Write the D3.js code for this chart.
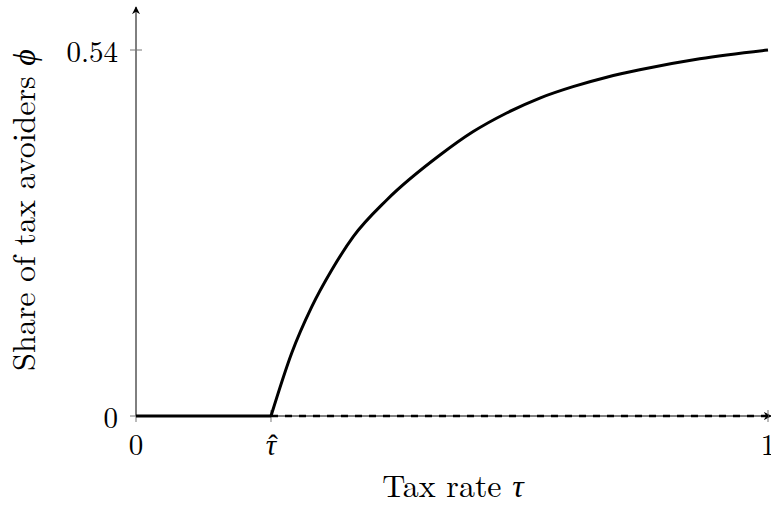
<!DOCTYPE html>
<html>
<head>
<meta charset="utf-8">
<script src="https://cdn.jsdelivr.net/npm/d3@7"></script>
<style>
  body { margin: 0; background: #fff; }
  text { font-family: "Latin Modern Roman", "CMU Serif", "DejaVu Serif", serif; fill: #000; }
  .greek { font-family: "Liberation Serif", serif; font-style: italic; }
</style>
</head>
<body>
<div id="viz-container"></div>
<script>
// dados
const tauHat = 0.2136;
const flatX = [0, 0.2136];
const flatY = [0, 0];
const curveX = [0.2136, 0.2464, 0.278, 0.3097, 0.3438, 0.3967, 0.481, 0.533, 0.5865, 0.639, 0.6915, 0.7448, 0.797, 0.892, 1.0];
const curveY = [0, 0.093, 0.161, 0.2154, 0.2646, 0.3187, 0.385, 0.4193, 0.4471, 0.4691, 0.4859, 0.4998, 0.5108, 0.527, 0.54];
const dashedX = [tauHat, 1.0];
const dashedY = [0, 0];
const xTicks = [0, tauHat, 1];
const xTickLabels = ['0', 'τ', '1'];
const xTickHats = [false, true, false];
const yTicks = [0, 0.54];
const yTickLabels = ['0', '0.54'];

const W = 771, H = 507;
const x = d3.scaleLinear().domain([0, 1]).range([136, 768]);
const y = d3.scaleLinear().domain([0, 0.54]).range([416, 50]);

const svg = d3.select('#viz-container').append('svg')
  .attr('width', W).attr('height', H);

// setas
const defs = svg.append('defs');
defs.append('marker')
  .attr('id', 'arrow')
  .attr('viewBox', '0 0 10 10')
  .attr('refX', 9).attr('refY', 5)
  .attr('markerWidth', 8).attr('markerHeight', 8)
  .attr('markerUnits', 'userSpaceOnUse')
  .attr('orient', 'auto')
  .append('path')
  .attr('d', 'M0,0 L10,5 L0,10 L3,5 Z')
  .attr('fill', '#000');

// eixos
svg.append('line')
  .attr('x1', x(0)).attr('y1', y(0)).attr('x2', 771).attr('y2', y(0))
  .attr('stroke', '#000').attr('stroke-width', 1)
  .attr('marker-end', 'url(#arrow)');
svg.append('line')
  .attr('x1', x(0)).attr('y1', y(0)).attr('x2', x(0)).attr('y2', 7)
  .attr('stroke', '#000').attr('stroke-width', 1)
  .attr('marker-end', 'url(#arrow)');

// ticks
svg.selectAll('.xtick').data(xTicks).enter().append('line')
  .attr('x1', d => x(d)).attr('x2', d => x(d))
  .attr('y1', y(0) - 6).attr('y2', y(0) + 6)
  .attr('stroke', '#777').attr('stroke-width', 1);
svg.selectAll('.ytick').data(yTicks).enter().append('line')
  .attr('x1', x(0) - 6).attr('x2', x(0) + 6)
  .attr('y1', d => y(d)).attr('y2', d => y(d))
  .attr('stroke', '#777').attr('stroke-width', 1);

svg.selectAll('.xlab').data(xTicks).enter().append('text')
  .attr('x', d => x(d)).attr('y', y(0) + 39)
  .attr('text-anchor', 'middle')
  .attr('class', (d, i) => xTickHats[i] ? 'greek' : null)
  .style('font-size', '29px')
  .text((d, i) => xTickLabels[i]);
// chapéu do tau
svg.selectAll('.xhat').data(xTicks.filter((d, i) => xTickHats[i])).enter().append('text')
  .attr('x', d => x(d) + 2).attr('y', y(0) + 39)
  .attr('text-anchor', 'middle')
  .style('font-family', 'Liberation Serif')
  .style('font-size', '29px')
  .text('ˆ');
svg.selectAll('.ylab').data(yTicks).enter().append('text')
  .attr('x', x(0) - 18).attr('y', d => y(d) + 12)
  .attr('text-anchor', 'end')
  .style('font-size', '29px')
  .text((d, i) => yTickLabels[i]);

// curva
const line = d3.line().x(d => x(d[0])).y(d => y(d[1]));
svg.append('path')
  .attr('d', line(flatX.map((v, i) => [v, flatY[i]])))
  .attr('fill', 'none').attr('stroke', '#000').attr('stroke-width', 3);
svg.append('path')
  .attr('d', line.curve(d3.curveMonotoneX)(curveX.map((v, i) => [v, curveY[i]])))
  .attr('fill', 'none').attr('stroke', '#000').attr('stroke-width', 3)
  .attr('stroke-linejoin', 'round');

// linha tracejada
svg.append('path')
  .attr('d', d3.line().x(d => x(d[0])).y(d => y(d[1]))(dashedX.map((v, i) => [v, dashedY[i]])))
  .attr('fill', 'none').attr('stroke', '#000').attr('stroke-width', 2.5)
  .attr('stroke-dasharray', '7,7');

// títulos
svg.append('text')
  .attr('x', 453).attr('y', 497)
  .attr('text-anchor', 'middle')
  .style('font-size', '32px')
  .html('Tax rate <tspan class="greek">τ</tspan>');
svg.append('text')
  .attr('transform', 'translate(35,210) rotate(-90)')
  .attr('text-anchor', 'middle')
  .style('font-size', '32px')
  .html('Share of tax avoiders <tspan class="greek">ϕ</tspan>');
</script>
</body>
</html>
